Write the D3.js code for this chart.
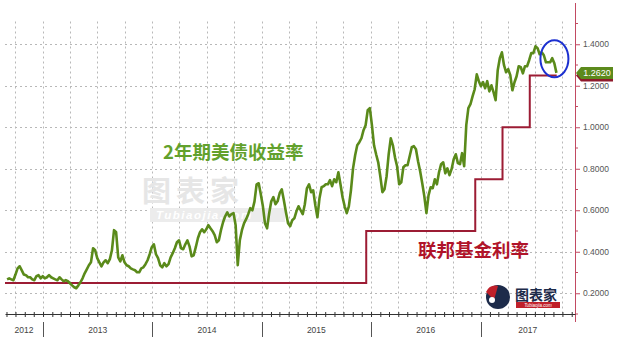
<!DOCTYPE html>
<html>
<head>
<meta charset="utf-8">
<script src="https://cdn.jsdelivr.net/npm/d3@7"></script>
<style>
  body { margin: 0; background: #fff; }
  svg { display: block; font-family: "Liberation Sans", Arial, sans-serif; }
</style>
</head>
<body>
<div id="main-chart"></div>
<script>
// 2yr treasury yield, one reading per week starting 2012-09-03
var yieldStart = "2012-09-03";
var yieldWeekly = [
  0.267, 0.272, 0.267, 0.263, 0.290, 0.320, 0.330, 0.310, 0.290, 0.287,
  0.277, 0.277, 0.267, 0.263, 0.282, 0.287, 0.272, 0.282, 0.272, 0.277,
  0.287, 0.277, 0.272, 0.267, 0.263, 0.277, 0.267, 0.258, 0.263, 0.258,
  0.248, 0.238, 0.229, 0.224, 0.238, 0.253, 0.272, 0.296, 0.315, 0.335,
  0.349, 0.417, 0.407, 0.369, 0.349, 0.330, 0.349, 0.359, 0.345, 0.364,
  0.407, 0.504, 0.494, 0.373, 0.354, 0.383, 0.349, 0.335, 0.330, 0.320,
  0.315, 0.311, 0.301, 0.301, 0.320, 0.325, 0.340, 0.359, 0.388, 0.422,
  0.436, 0.388, 0.369, 0.335, 0.325, 0.345, 0.330, 0.340, 0.373, 0.393,
  0.417, 0.446, 0.455, 0.417, 0.412, 0.436, 0.455, 0.426, 0.378, 0.383,
  0.422, 0.465, 0.494, 0.508, 0.494, 0.508, 0.528, 0.513, 0.499, 0.480,
  0.446, 0.455, 0.504, 0.542, 0.571, 0.590, 0.571, 0.581, 0.586, 0.528,
  0.335, 0.455, 0.504, 0.537, 0.557, 0.581, 0.610, 0.600, 0.643, 0.725,
  0.730, 0.677, 0.619, 0.537, 0.513, 0.586, 0.643, 0.663, 0.629, 0.643,
  0.682, 0.701, 0.648, 0.590, 0.537, 0.523, 0.552, 0.561, 0.595, 0.619,
  0.600, 0.581, 0.629, 0.706, 0.725, 0.687, 0.696, 0.624, 0.566, 0.658,
  0.711, 0.716, 0.725, 0.725, 0.745, 0.716, 0.749, 0.735, 0.783, 0.725,
  0.663, 0.619, 0.586, 0.619, 0.696, 0.802, 0.865, 0.913, 0.928, 0.947,
  0.986, 1.010, 1.082, 1.092, 1.010, 0.913, 0.870, 0.831, 0.764, 0.687,
  0.701, 0.764, 0.870, 0.947, 0.913, 0.855, 0.812, 0.725, 0.735, 0.807,
  0.817, 0.817, 0.860, 0.904, 0.909, 0.894, 0.836, 0.788, 0.730, 0.667,
  0.586, 0.672, 0.711, 0.706, 0.749, 0.725, 0.783, 0.822, 0.831, 0.778,
  0.802, 0.769, 0.798, 0.846, 0.870, 0.827, 0.822, 0.875, 0.812, 1.010,
  1.092, 1.111, 1.149, 1.183, 1.255, 1.222, 1.198, 1.217, 1.188, 1.222,
  1.173, 1.202, 1.169, 1.130, 1.275, 1.333, 1.361, 1.299, 1.265, 1.280,
  1.251, 1.178, 1.217, 1.246, 1.294, 1.289, 1.260, 1.294, 1.294, 1.323,
  1.357, 1.357, 1.390, 1.381, 1.352, 1.361, 1.347, 1.313, 1.313, 1.313,
  1.333, 1.308, 1.262
];

// fed funds target (upper bound) change dates
var fedDates = ["2012-08-27", "2015-12-16", "2016-12-14", "2017-03-15", "2017-06-14", "2017-09-12"];
var fedRates = [0.25, 0.50, 0.75, 1.00, 1.25, 1.25];

var yTicks = [0.2, 0.4, 0.6, 0.8, 1.0, 1.2, 1.4];
var yearLabels = ["2012", "2013", "2014", "2015", "2016", "2017"];
var lastYield = "1.2620";

var width = 619, height = 355;
var plot = {left: 5, right: 575, top: 23.5, bottom: 314};

var parse = d3.timeParse("%Y-%m-%d");
var t0 = parse(yieldStart);
var yieldData = yieldWeekly.map(function(v, i) {
  return {date: d3.timeDay.offset(t0, i * 7), value: v};
});
var fedData = fedDates.map(function(d, i) { return {date: parse(d), value: fedRates[i]}; });

var xScale = d3.scaleTime()
  .domain([new Date(2012, 7, 27), new Date(2017, 10, 12)])
  .range([plot.left, plot.right]);
var yScale = d3.scaleLinear().domain([0.1, 1.5]).range([plot.bottom, plot.top]);

var svg = d3.select("#main-chart").append("svg")
  .attr("width", width).attr("height", height);

// grid
var grid = svg.append("g").attr("stroke", "#b8b8b8").attr("stroke-width", 1)
  .attr("stroke-dasharray", "2,3");
grid.selectAll(".vg").data(xScale.ticks(d3.timeMonth.every(3))).enter().append("line")
  .attr("x1", function(d) { return Math.round(xScale(d)) + 0.5; })
  .attr("x2", function(d) { return Math.round(xScale(d)) + 0.5; })
  .attr("y1", plot.top - 2).attr("y2", plot.bottom);
grid.selectAll(".hg").data(yTicks).enter().append("line")
  .attr("x1", plot.left).attr("x2", plot.right)
  .attr("y1", function(d) { return Math.round(yScale(d)) + 0.5; })
  .attr("y2", function(d) { return Math.round(yScale(d)) + 0.5; });

// watermark
var wm = svg.append("g");
wm.append("text").attr("x", 142).attr("y", 202)
  .attr("font-family", "Noto Sans CJK SC").attr("font-weight", "bold").attr("font-size", 29)
  .attr("fill", "#e6e6e6").attr("letter-spacing", 5).text("图表家");
wm.append("rect").attr("x", 150).attr("y", 208).attr("width", 135).attr("height", 14)
  .attr("fill", "#ececec");
wm.append("text").attr("x", 156).attr("y", 219).attr("font-size", 11.5)
  .attr("font-weight", "bold").attr("font-style", "italic").attr("fill", "#fff")
  .attr("letter-spacing", 1.5).text("Tubiaojia.com");

// series
var line = d3.line()
  .x(function(d) { return xScale(d.date); })
  .y(function(d) { return yScale(d.value); });

svg.append("path").datum(fedData)
  .attr("fill", "none").attr("stroke", "#9c1c34").attr("stroke-width", 2)
  .attr("d", line.curve(d3.curveStepAfter));
svg.append("path").datum(yieldData)
  .attr("fill", "none").attr("stroke", "#5a8a1a").attr("stroke-width", 2.6)
  .attr("stroke-linejoin", "round")
  .attr("d", line.curve(d3.curveLinear));

// right axis
var rAxis = d3.axisRight(yScale).tickValues(yTicks).tickSize(5).tickPadding(3)
  .tickFormat(d3.format(".4f"));
var ra = svg.append("g").attr("transform", "translate(" + plot.right + ",0)").call(rAxis);
ra.select(".domain").remove();
ra.selectAll(".tick line").attr("stroke", "#c24a62");
ra.selectAll(".tick text").attr("fill", "#555").attr("font-size", 8.5)
  .attr("font-family", "Liberation Sans, Arial, sans-serif");
ra.selectAll(".minor").data(d3.range(0.1, 1.55, 0.2)).enter().append("line")
  .attr("x1", 0).attr("x2", 3)
  .attr("y1", function(d) { return yScale(d); }).attr("y2", function(d) { return yScale(d); })
  .attr("stroke", "#c24a62");
svg.append("line").attr("x1", plot.right + 0.5).attr("x2", plot.right + 0.5)
  .attr("y1", 3).attr("y2", 322).attr("stroke", "#c24a62").attr("stroke-width", 1);

// bottom axis with monthly ticks
var bAxis = d3.axisBottom(xScale).ticks(d3.timeMonth.every(1)).tickSize(3)
  .tickFormat("").tickSizeOuter(0);
var ba = svg.append("g").attr("transform", "translate(0," + plot.bottom + ")").call(bAxis);
ba.select(".domain").attr("stroke", "#333");
ba.selectAll(".tick line").attr("stroke", "#333").attr("y1", -2);

// year separators and labels
var yearStarts = xScale.ticks(d3.timeYear.every(1));
svg.selectAll(".ysep").data(yearStarts).enter().append("line")
  .attr("x1", function(d) { return Math.round(xScale(d)) + 0.5; })
  .attr("x2", function(d) { return Math.round(xScale(d)) + 0.5; })
  .attr("y1", 322).attr("y2", 337).attr("stroke", "#555");
var yearMid = yearLabels.map(function(y, i) {
  var a = Math.max(xScale(new Date(+y, 0, 1)), plot.left);
  var b = Math.min(xScale(new Date(+y + 1, 0, 1)), plot.right);
  return {label: y, x: (a + b) / 2};
});
svg.selectAll(".ylab").data(yearMid).enter().append("text")
  .attr("x", function(d) { return d.x; }).attr("y", 333)
  .attr("text-anchor", "middle").attr("font-size", 8.5).attr("fill", "#444")
  .text(function(d) { return d.label; });

// last value tags
function tag(v, color, label) {
  var yy = yScale(v);
  var g = svg.append("g").attr("transform", "translate(" + (plot.right + 1) + "," + yy + ")");
  g.append("path").attr("d", "M0,0 L5,-6 L37,-6 L37,6 L5,6 Z").attr("fill", color);
  if (label) {
    g.append("text").attr("x", 21).attr("y", 3.5).attr("text-anchor", "middle")
      .attr("font-size", 9).attr("fill", "#fff").text(label);
  }
}
tag(fedRates[fedRates.length - 1], "#8e1a2c");
tag(yieldWeekly[yieldWeekly.length - 1], "#5c8a1c", lastYield);

// highlight circle around latest move
var lastDate = yieldData[yieldData.length - 1].date;
svg.append("ellipse")
  .attr("cx", xScale(lastDate) - 2).attr("cy", yScale(1.33))
  .attr("rx", 14).attr("ry", 18.5)
  .attr("fill", "none").attr("stroke", "#1c30d0").attr("stroke-width", 2);

// series labels
svg.append("text").attr("x", 163).attr("y", 159)
  .attr("font-family", "Noto Sans CJK SC").attr("font-weight", "bold").attr("font-size", 18.5)
  .attr("fill", "#62a12c").text("2年期美债收益率");
svg.append("text").attr("x", 418).attr("y", 257)
  .attr("font-family", "Noto Sans CJK SC").attr("font-weight", "bold").attr("font-size", 18.5)
  .attr("fill", "#b0142a").text("联邦基金利率");

// logo
var logo = svg.append("g");
logo.append("circle").attr("cx", 498).attr("cy", 297).attr("r", 12).attr("fill", "#1d2b4a");
logo.append("path").attr("d", "M486,292 Q490,284 498,286 L494,300 Z").attr("fill", "#c0202a");
logo.append("circle").attr("cx", 492).attr("cy", 300).attr("r", 3).attr("fill", "#fff");
logo.append("text").attr("x", 515).attr("y", 300)
  .attr("font-family", "Noto Sans CJK SC").attr("font-weight", "bold").attr("font-size", 14)
  .attr("fill", "#1d2b4a").text("图表家");
logo.append("rect").attr("x", 516).attr("y", 302).attr("width", 44).attr("height", 6).attr("fill", "#c0202a");
logo.append("text").attr("x", 538).attr("y", 307).attr("text-anchor", "middle")
  .attr("font-size", 4.5).attr("font-style", "italic").attr("fill", "#fff").text("Tubiaojia.com");
</script>
</body>
</html>
